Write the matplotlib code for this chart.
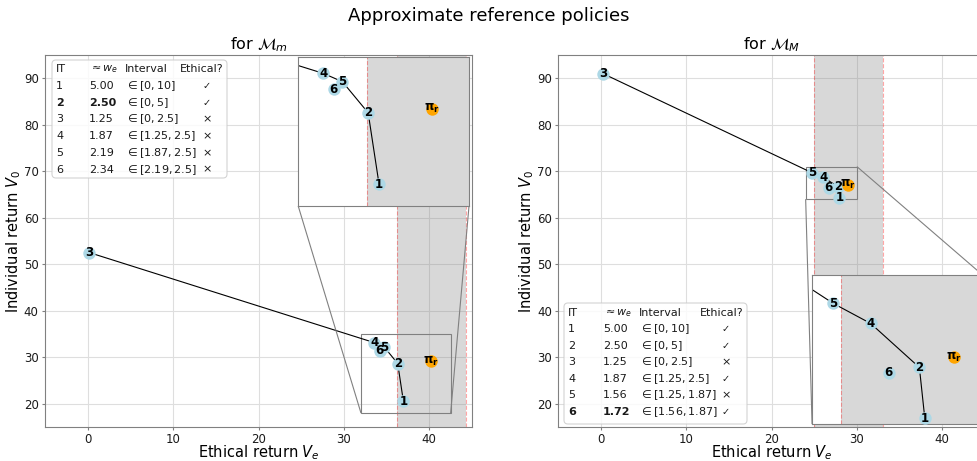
import numpy as np
import matplotlib
matplotlib.use("Agg")
import matplotlib.pyplot as plt
from matplotlib.patches import FancyBboxPatch
from mpl_toolkits.axes_grid1.inset_locator import mark_inset

# ------------------------------------------------------------
# data
# ------------------------------------------------------------
ITERATIONS = [1, 2, 3, 4, 5, 6]

# M_m
ve_m = [36.97, 36.30, 0.20, 33.55, 34.72, 34.17]
v0_m = [20.50, 28.65, 52.50, 33.15, 32.20, 31.35]
front_m = [3, 4, 5, 2, 1]          # iterations joined by the black line
ref_m = (40.2, 29.1)               # pi_r
band_m = (36.2, 44.3)              # ethical region
zoom_m = (32.0, 42.5, 18.0, 35.0)  # inset x0, x1, y0, y1
we_m = [5.00, 2.50, 1.25, 1.87, 2.19, 2.34]
interval_m = ["[0, 10]", "[0, 5]", "[0, 2.5]", "[1.25, 2.5]", "[1.87, 2.5]", "[2.19, 2.5]"]
ethical_m = [True, True, False, False, False, False]
best_m = 2

# M_M
ve_M = [27.96, 27.77, 0.27, 26.06, 24.75, 26.69]
v0_M = [64.27, 66.66, 91.00, 68.73, 69.67, 66.41]
front_M = [3, 5, 4, 2, 1]
ref_M = (28.99, 67.15)
band_M = (25.0, 33.0)
zoom_M = (24.0, 30.0, 64.0, 71.0)
we_M = [5.00, 2.50, 1.25, 1.87, 1.56, 1.72]
interval_M = ["[0, 10]", "[0, 5]", "[0, 2.5]", "[1.25, 2.5]", "[1.25, 1.87]", "[1.56, 1.87]"]
ethical_M = [True, True, False, True, False, True]
best_M = 6

W, H = 977, 461
plt.rcParams.update({
    "axes.edgecolor": "0.5",
    "xtick.color": "0.5", "ytick.color": "0.5",
    "xtick.labelcolor": "0.1", "ytick.labelcolor": "0.1",
    "xtick.labelsize": 8.5, "ytick.labelsize": 8.5,
    "xtick.major.size": 2.5, "ytick.major.size": 2.5,
    "xtick.major.pad": 1.5, "ytick.major.pad": 2,
})


def draw_policies(ax, ve, v0, front, ref, band, clip=False):
    ax.axvspan(band[0], band[1], color="grey", alpha=0.3, lw=0, zorder=1)
    for b in band:
        ax.axvline(b, color="red", ls="--", lw=0.8, alpha=0.35, zorder=1)
    xs = [ve[i - 1] for i in front]
    ys = [v0[i - 1] for i in front]
    ax.plot(xs, ys, color="black", lw=0.8, zorder=2)
    ax.scatter(ve, v0, s=80, color="lightblue", zorder=3, linewidths=0)
    for it, x, y in zip(ITERATIONS, ve, v0):
        ax.text(x, y, str(it), ha="center", va="center", fontsize=8.5,
                fontweight="bold", zorder=4, clip_on=clip)
    ax.scatter([ref[0]], [ref[1]], s=80, color="orange", zorder=3, linewidths=0)
    ax.text(ref[0], ref[1], r"$\mathbf{\pi_r}$", ha="center", va="center",
            fontsize=8.5, zorder=4, clip_on=clip)


def px(x, y):
    return x / W, 1 - y / H


def draw_table(box, cols, row0, step, we, intervals, ethical, best):
    # box = (left, top, width, height) in figure pixels
    left, top, bw, bh = box
    x0, y0 = px(left, top + bh)
    frame = FancyBboxPatch((x0, y0), bw / W, bh / H,
                           boxstyle="round,pad=0,rounding_size=0.004",
                           mutation_aspect=W / H, transform=fig.transFigure,
                           facecolor="white", edgecolor="0.8", alpha=0.85, lw=0.8)
    fig.patches.append(frame)
    c_it, c_we, c_iv, c_eh, c_ck = cols
    kw = dict(fontsize=8, va="center", color="0.1")
    y = top + row0
    fig.text(*px(left + c_it, y), "IT", **kw)
    fig.text(*px(left + c_we, y), r"$\approx w_e$", **kw)
    fig.text(*px(left + c_iv, y), "Interval", **kw)
    fig.text(*px(left + c_eh, y), "Ethical?", **kw)
    for k, it in enumerate(ITERATIONS):
        y = top + row0 + step * (k + 1)
        fw = "bold" if it == best else "normal"
        fig.text(*px(left + c_it, y), str(it), fontweight=fw, **kw)
        fig.text(*px(left + c_we, y), f"{we[k]:.2f}", fontweight=fw, **kw)
        fig.text(*px(left + c_iv, y), r"$\in" + intervals[k] + "$", **kw)
        fig.text(*px(left + c_ck, y), "✓" if ethical[k] else "×",
                 ha="center", fontsize=7 if ethical[k] else 8, va="center", color="0.1")


fig = plt.figure(figsize=(W / 100, H / 100), dpi=100)
fig.suptitle("Approximate reference policies", fontsize=13, y=0.985)

axes = []
for lx in (45, 558):
    ax = fig.add_axes([lx / W, (H - 427) / H, 427 / W, 372 / H])
    axes.append(ax)

panels = [
    (axes[0], r"for $\mathcal{M}_m$", ve_m, v0_m, front_m, ref_m, band_m, zoom_m,
     [0.593, 0.594, 0.40, 0.40], (3, 4)),
    (axes[1], r"for $\mathcal{M}_M$", ve_M, v0_M, front_M, ref_M, band_M, zoom_M,
     [0.595, 0.008, 0.40, 0.40], (1, 3)),
]

for ax, title, ve, v0, front, ref, band, zoom, ipos, locs in panels:
    ax.grid(True, color="0.87", lw=0.8, zorder=0)
    ax.set_axisbelow(True)
    draw_policies(ax, ve, v0, front, ref, band)
    ax.set_xlim(-5, 45)
    ax.set_ylim(15, 95)
    ax.set_xticks([0, 10, 20, 30, 40])
    ax.set_yticks([20, 30, 40, 50, 60, 70, 80, 90])
    ax.set_title(title, fontsize=11.5, pad=4)
    ax.set_xlabel(r"Ethical return $V_e$", fontsize=10.5)
    ax.set_ylabel(r"Individual return $V_0$", fontsize=10.5)
    ax.xaxis.set_label_coords(0.5, -0.045)
    ax.yaxis.set_label_coords(-0.052, 0.5)

    axins = ax.inset_axes(ipos)
    draw_policies(axins, ve, v0, front, ref, band, clip=True)
    axins.set_xlim(zoom[0], zoom[1])
    axins.set_ylim(zoom[2], zoom[3])
    axins.set_xticks([])
    axins.set_yticks([])
    mark_inset(ax, axins, loc1=locs[0], loc2=locs[1], fc="none", ec="0.5", lw=0.8)

draw_table((52, 60, 175, 118), (4, 37, 73, 128, 155), 9, 16.8,
           we_m, interval_m, ethical_m, best_m)
draw_table((564, 303, 183, 121), (4, 39, 75, 136, 162), 9.7, 16.5,
           we_M, interval_M, ethical_M, best_M)

fig.savefig("out.png", dpi=100)
